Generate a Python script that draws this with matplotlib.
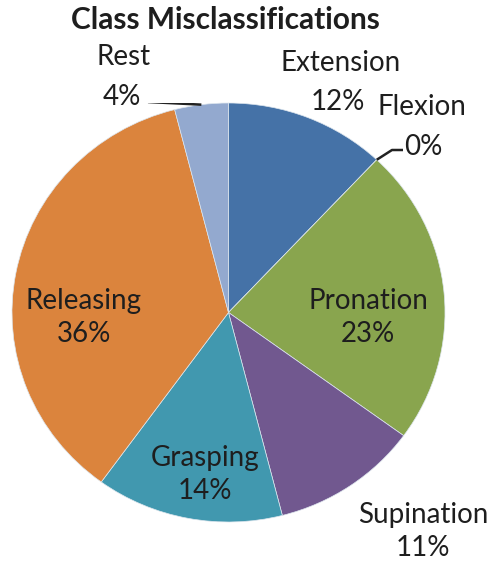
import matplotlib
matplotlib.use("Agg")
import matplotlib.pyplot as plt
import numpy as np

# Misclassification share per class (percent), clockwise from 12 o'clock
categories = ["Extension", "Flexion", "Pronation", "Supination",
              "Grasping", "Releasing", "Rest"]
values = [12, 0, 23, 11, 14, 36, 4]
colors = ["#4572A7", "#AA4643", "#89A54E", "#71588F",
          "#4198AF", "#DB843D", "#93A9CF"]
title = "Class Misclassifications"

W, H = 495, 563
fig = plt.figure(figsize=(W / 100, H / 100), dpi=100)
fig.patch.set_facecolor("white")

# pie box in pixels (left, top, right, bottom)
pl, pt, pr, pb = 12, 103, 445, 522
ax = fig.add_axes([pl / W, (H - pb) / H, (pr - pl) / W, (pb - pt) / H])

wedges, _ = ax.pie(values, colors=colors, startangle=90, counterclock=False,
                   radius=1.0, wedgeprops=dict(edgecolor="#DDE6EE", linewidth=0.5))
ax.set_aspect("auto")
ax.set_xlim(-1, 1)
ax.set_ylim(-1, 1)
ax.axis("off")

cx, cy = (pl + pr) / 2, (pt + pb) / 2
rx, ry = (pr - pl) / 2, (pb - pt) / 2


def to_data(px, py):
    return (px - cx) / rx, (cy - py) / ry


font = "Lato"
fs = 20
tc = "#1e1e1e"

pct = {c: f"{v}%" for c, v in zip(categories, values)}


def put(px, py, s, ha="center"):
    x, y = to_data(px, py)
    ax.text(x, y, s, ha=ha, va="center", fontsize=fs, family=font, color=tc)


# labels: pixel centres of the name line and the percentage line
label_pos = {
    "Extension": (341, 63, 338, 102),
    "Pronation": (368, 301, 368, 334),
    "Supination": (423, 515, 423, 548),
    "Grasping": (205, 458, 205, 491),
    "Releasing": (84, 301, 84, 334),
    "Rest": (124, 57, 122, 97),
}
for name, (nx, ny, vx, vy) in label_pos.items():
    put(nx, ny, name)
    put(vx, vy, pct[name])

# Flexion label with leader line
put(422, 107, "Flexion")
put(404, 147, pct["Flexion"], ha="left")

cum = np.cumsum([0] + values) / sum(values)
i = categories.index("Flexion")
ang = np.deg2rad(90 - 360 * cum[i])
p0 = (np.cos(ang), np.sin(ang))
e1 = to_data(392, 150)
e2 = to_data(403, 150)
ax.plot([p0[0], e1[0], e2[0]], [p0[1], e1[1], e2[1]], color="#222222", lw=1.8,
        solid_capstyle="butt")

# Rest leader line from wedge mid-angle
i = categories.index("Rest")
ang = np.deg2rad(90 - 360 * (cum[i] + cum[i + 1]) / 2)
p0 = (np.cos(ang), np.sin(ang))
e1 = to_data(148, 102)
ax.plot([p0[0], e1[0]], [p0[1], e1[1]], color="#222222", lw=1.8,
        solid_capstyle="butt")

fig.text(225 / W, 1 - 20 / H, title, ha="center", va="center",
         fontsize=21.5, fontweight="bold", family=font, color=tc)

fig.savefig("out.png", dpi=100, facecolor="white")
